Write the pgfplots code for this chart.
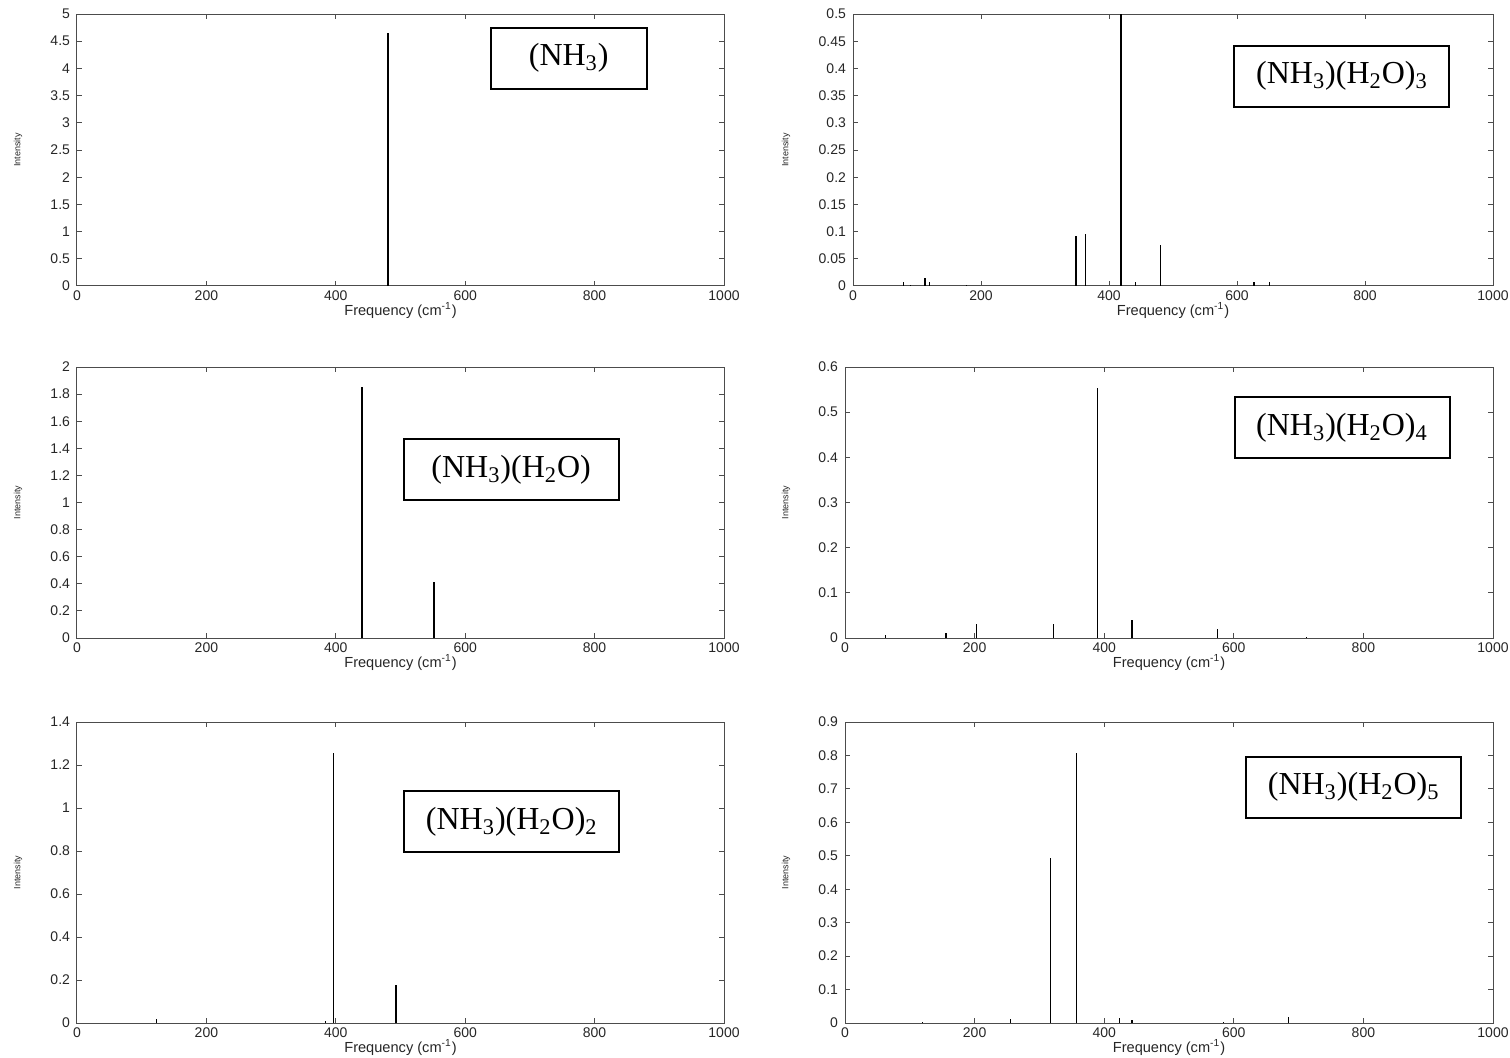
\documentclass[border=0pt]{standalone}
\usepackage{pgfplots}
\pgfplotsset{compat=1.18}
\usepackage{fontspec}
\setmainfont{Liberation Sans}
\newfontfamily\tnr{Liberation Serif}

\pgfplotsset{
  spec/.style={
    scale only axis, anchor=south west,
    xmin=0, xmax=1000, ymin=0,
    xtick={0,200,400,600,800,1000},
    axis line style={gray!60!black, line width=0.5pt},
    tick style={gray!60!black, line width=0.5pt},
    major tick length=2.5pt,
    tick align=inside,
    ticklabel style={font=\fontsize{7}{8}\selectfont, text=black!85},
    xticklabel style={yshift=1pt},
    /pgf/number format/assume math mode=true,
    /pgf/number format/fixed,
    /pgf/number format/precision=2,
    /pgf/number format/1000 sep={},
    xlabel={Frequency (cm\textsuperscript{-1})},
    ylabel={Intensity},
    xlabel style={font=\fontsize{7.3}{8}\selectfont, text=black!85, yshift=6pt},
    ylabel style={font=\fontsize{4.5}{5}\selectfont, text=black!85, at={(rel axis cs:0,0.5)}, anchor=center},
  },
  spike/.style={ycomb, black, line width=0.6pt, no marks},
}
\tikzset{
  lab/.style={draw, line width=1pt, minimum height=30.5pt, inner sep=2pt, font=\tnr\fontsize{16}{18}\selectfont},
}

\begin{document}
\begin{tikzpicture}
\useasboundingbox (0,0) rectangle (755pt,-529pt);

% Top-left
\begin{axis}[spec, at={(38.5pt,-143pt)}, width=323.5pt, height=136pt, ymax=5,
  ytick={0,0.5,1,1.5,2,2.5,3,3.5,4,4.5,5},
  ylabel style={yshift=29.5pt}]
\addplot[spike] coordinates {(480.7,4.65)};
\node[lab, minimum width=78pt] at (rel axis cs:0.760,0.838) {(NH\textsubscript{3})};
\end{axis}

% Top-right
\begin{axis}[spec, at={(426.5pt,-143pt)}, width=320pt, height=136pt, ymax=0.5,
  ytick={0,0.05,0.1,0.15,0.2,0.25,0.3,0.35,0.4,0.45,0.5},
  ylabel style={yshift=33.5pt}]
\addplot[spike] coordinates {(78.6,0.0066) (90,0.002) (112.5,0.0147) (119,0.008) (177.6,0.001) (348.4,0.091) (363.5,0.0955) (418.7,0.6) (442,0.0066) (481,0.076) (626.5,0.0066) (650.5,0.0066)};
\node[lab, minimum width=107.5pt] at (rel axis cs:0.764,0.772) {(NH\textsubscript{3})(H\textsubscript{2}O)\textsubscript{3}};
\end{axis}

% Middle-left
\begin{axis}[spec, at={(38.5pt,-319pt)}, width=323.5pt, height=135.5pt, ymax=2,
  ytick={0,0.2,0.4,0.6,0.8,1,1.2,1.4,1.6,1.8,2},
  ylabel style={yshift=29.5pt}]
\addplot[spike] coordinates {(440.5,1.852) (551.8,0.413)};
\node[lab, minimum width=107.5pt] at (rel axis cs:0.671,0.620) {(NH\textsubscript{3})(H\textsubscript{2}O)};
\end{axis}

% Middle-right
\begin{axis}[spec, at={(422.5pt,-319pt)}, width=324pt, height=135.5pt, ymax=0.6,
  ytick={0,0.1,0.2,0.3,0.4,0.5,0.6},
  ylabel style={yshift=29.5pt}]
\addplot[spike] coordinates {(62.8,0.006) (155.9,0.012) (203,0.030) (321.5,0.030) (390,0.553) (442.9,0.0397) (575,0.02) (712.5,0.002)};
\node[lab, minimum width=107.5pt] at (rel axis cs:0.767,0.775) {(NH\textsubscript{3})(H\textsubscript{2}O)\textsubscript{4}};
\end{axis}

% Bottom-left
\begin{axis}[spec, at={(38.5pt,-511.5pt)}, width=323.5pt, height=150.5pt, ymax=1.4,
  ytick={0,0.2,0.4,0.6,0.8,1,1.2,1.4},
  ylabel style={yshift=29.5pt}]
\addplot[spike] coordinates {(122.6,0.018) (384.3,0.01) (397,1.256) (493,0.177)};
\node[lab, minimum width=107.5pt] at (rel axis cs:0.672,0.668) {(NH\textsubscript{3})(H\textsubscript{2}O)\textsubscript{2}};
\end{axis}

% Bottom-right
\begin{axis}[spec, at={(422.5pt,-511.5pt)}, width=324pt, height=150.5pt, ymax=0.9,
  ytick={0,0.1,0.2,0.3,0.4,0.5,0.6,0.7,0.8,0.9},
  ylabel style={yshift=29.5pt}]
\addplot[spike] coordinates {(119,0.002) (255,0.012) (316.8,0.493) (357,0.807) (423.4,0.015) (443,0.01) (583.8,0.003) (684,0.018)};
\node[lab, minimum width=107.5pt] at (rel axis cs:0.785,0.784) {(NH\textsubscript{3})(H\textsubscript{2}O)\textsubscript{5}};
\end{axis}
\end{tikzpicture}
\end{document}
